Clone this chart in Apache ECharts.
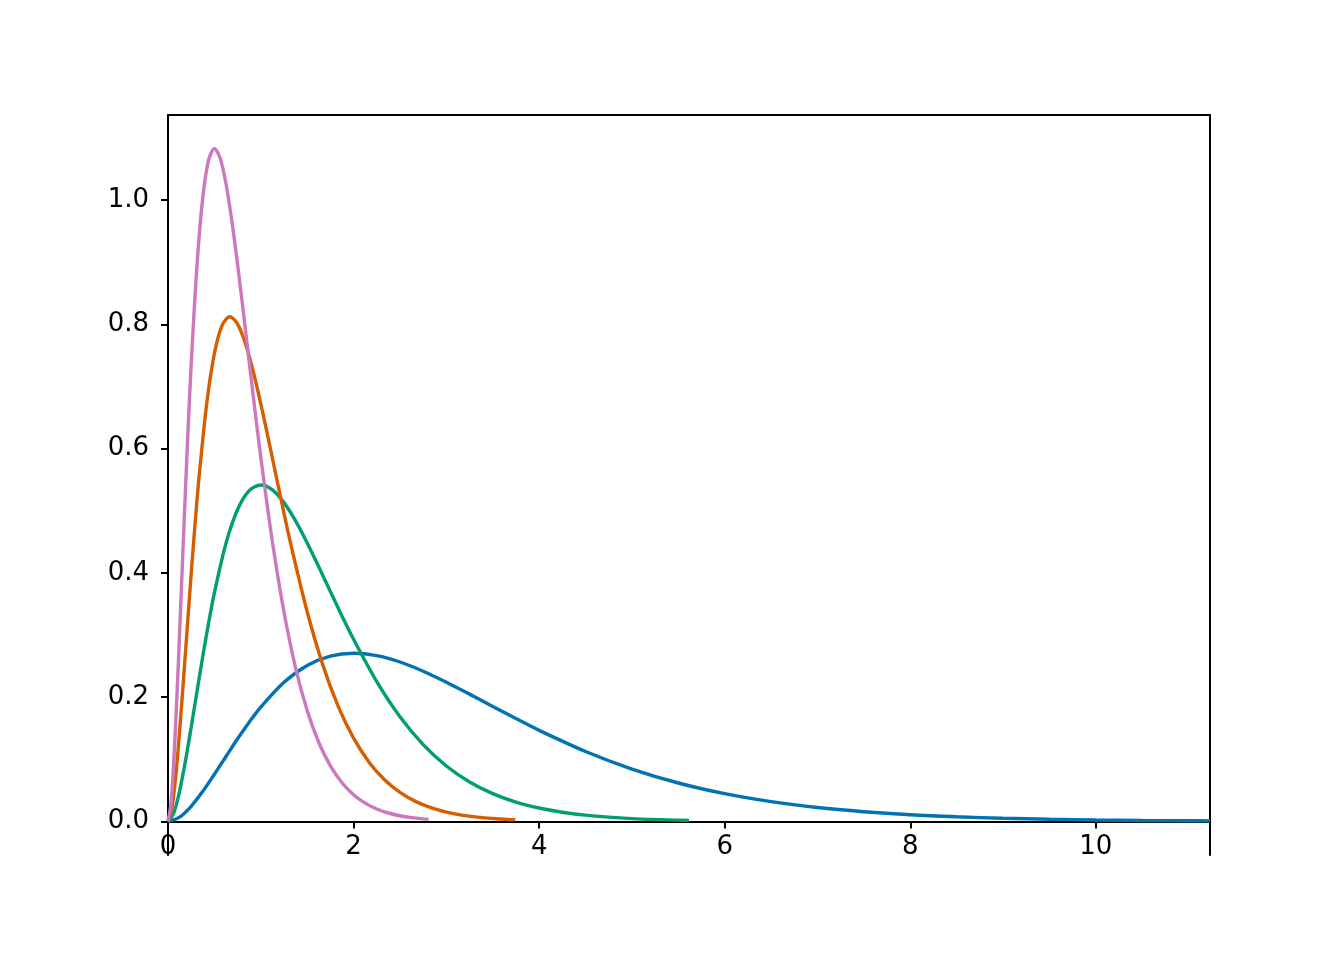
<!DOCTYPE html>
<html>
<head>
<meta charset="utf-8">
<script src="https://cdn.jsdelivr.net/npm/echarts@6/dist/echarts.min.js"></script>
<style>
html,body{margin:0;padding:0;background:#fff;}
#chart{width:1344px;height:960px;}
</style>
</head>
<body>
<div id="chart"></div>
<script>
// Series values (x, y)
const blueX = [0,0.125,0.25,0.375,0.5,0.625,0.75,0.875,1,1.25,1.5,1.75,2,2.25,2.5,2.75,3,3.25,3.5,3.75,4,4.5,5,5.5,6,6.5,7,7.5,8,8.5,9,9.5,10,10.5,11,11.23];
const blueY = [0,0.0069,0.0243,0.0483,0.0758,0.1045,0.1329,0.1596,0.1839,0.2238,0.2510,0.2661,0.2707,0.2668,0.2565,0.2417,0.2240,0.2048,0.1850,0.1654,0.1465,0.1125,0.0842,0.0618,0.0446,0.0318,0.0223,0.0156,0.0107,0.0074,0.0050,0.0034,0.0023,0.0015,0.0010,0.0008];

const greenX = [0,0.0625,0.125,0.1875,0.25,0.3125,0.375,0.4375,0.5,0.625,0.75,0.875,1,1.125,1.25,1.375,1.5,1.625,1.75,1.875,2,2.25,2.5,2.75,3,3.25,3.5,3.75,4,4.25,4.5,4.75,5,5.25,5.5,5.615];
const greenY = [0,0.0138,0.0487,0.0967,0.1516,0.2091,0.2657,0.3192,0.3679,0.4477,0.5020,0.5322,0.5413,0.5336,0.5130,0.4835,0.4481,0.4096,0.3699,0.3307,0.2931,0.2250,0.1684,0.1236,0.0892,0.0635,0.0447,0.0311,0.0215,0.0147,0.0100,0.0068,0.0045,0.0030,0.0020,0.0017];

const orangeX = [0,0.0417,0.0833,0.125,0.1667,0.2083,0.25,0.2917,0.3333,0.4167,0.5,0.5833,0.6667,0.75,0.8333,0.9167,1.0,1.0833,1.1667,1.25,1.3333,1.5,1.6667,1.8333,2.0,2.1667,2.3333,2.5,2.6667,2.8333,3.0,3.1667,3.3333,3.5,3.6667,3.7433];
const orangeY = [0,0.0207,0.0730,0.1450,0.2275,0.3136,0.3986,0.4787,0.5518,0.6715,0.7531,0.7983,0.8120,0.8004,0.7696,0.7252,0.6721,0.6143,0.5549,0.4961,0.4396,0.3374,0.2527,0.1854,0.1339,0.0953,0.0670,0.0467,0.0322,0.0221,0.0150,0.0101,0.0068,0.0046,0.0030,0.0025];

const pinkX = [0,0.03125,0.0625,0.09375,0.125,0.15625,0.1875,0.21875,0.25,0.3125,0.375,0.4375,0.5,0.5625,0.625,0.6875,0.75,0.8125,0.875,0.9375,1.0,1.125,1.25,1.375,1.5,1.625,1.75,1.875,2.0,2.125,2.25,2.375,2.5,2.625,2.75,2.8075];
const pinkY = [0,0.0276,0.0974,0.1933,0.3033,0.4182,0.5314,0.6383,0.7358,0.8953,1.0041,1.0644,1.0827,1.0672,1.0261,0.9669,0.8962,0.8191,0.7398,0.6614,0.5861,0.4499,0.3369,0.2472,0.1785,0.1270,0.0894,0.0622,0.0429,0.0294,0.0200,0.0135,0.0091,0.0061,0.0040,0.0034];

const xTicks = [0,2,4,6,8,10];
const yTicks = [0,0.2,0.4,0.6,0.8,1.0];

const xMin = 0, xMax = 11.23;
const yMin = -0.0541, yMax = 1.1368;

function pairs(xs, ys){ return xs.map((x,i)=>[x, ys[i]]); }

const FONT = 'DejaVu Sans';
const FS = 26;

const chart = echarts.init(document.getElementById('chart'), null, {renderer:'canvas'});

function mkSeries(xs, ys, color){
  return {
    type:'line', xAxisIndex:0, yAxisIndex:0,
    data: pairs(xs, ys),
    showSymbol:false, symbol:'none',
    smooth:0.3,
    lineStyle:{color:color, width:3.4},
    itemStyle:{color:color},
    animation:false, silent:true
  };
}

chart.setOption({
  backgroundColor:'#ffffff',
  animation:false,
  grid:{left:168, top:115, right:134, bottom:105, containLabel:false},
  xAxis:[{
    type:'value', min:xMin, max:xMax, interval:2,
    position:'bottom',
    axisLine:{show:true, onZero:true, onZeroAxisIndex:0, lineStyle:{color:'#000', width:2}},
    axisTick:{show:true, inside:false, length:7, lineStyle:{color:'#000', width:2}, customValues:xTicks},
    axisLabel:{show:true, margin:-21, color:'#000', fontFamily:FONT, fontSize:FS, customValues:xTicks,
      formatter:v=>String(v)},
    splitLine:{show:false}
  },{
    type:'value', min:xMin, max:xMax, position:'top',
    axisLine:{show:true, onZero:false, lineStyle:{color:'#000', width:2}},
    axisTick:{show:false}, axisLabel:{show:false}, splitLine:{show:false}
  }],
  yAxis:[{
    type:'value', min:yMin, max:yMax,
    position:'left',
    axisLine:{show:true, onZero:false, lineStyle:{color:'#000', width:2}},
    axisTick:{show:true, inside:false, length:7, lineStyle:{color:'#000', width:2}, customValues:yTicks},
    axisLabel:{show:true, margin:19, color:'#000', fontFamily:FONT, fontSize:FS, customValues:yTicks,
      formatter:v=>v.toFixed(1)},
    splitLine:{show:false}
  },{
    type:'value', min:yMin, max:yMax, position:'right',
    axisLine:{show:true, onZero:false, lineStyle:{color:'#000', width:2}},
    axisTick:{show:false}, axisLabel:{show:false}, splitLine:{show:false}
  }],
  series:[
    mkSeries(blueX, blueY, '#0173b2'),
    mkSeries(greenX, greenY, '#029e73'),
    mkSeries(orangeX, orangeY, '#d55e00'),
    mkSeries(pinkX, pinkY, '#cc78bc')
  ]
});
</script>
</body>
</html>
